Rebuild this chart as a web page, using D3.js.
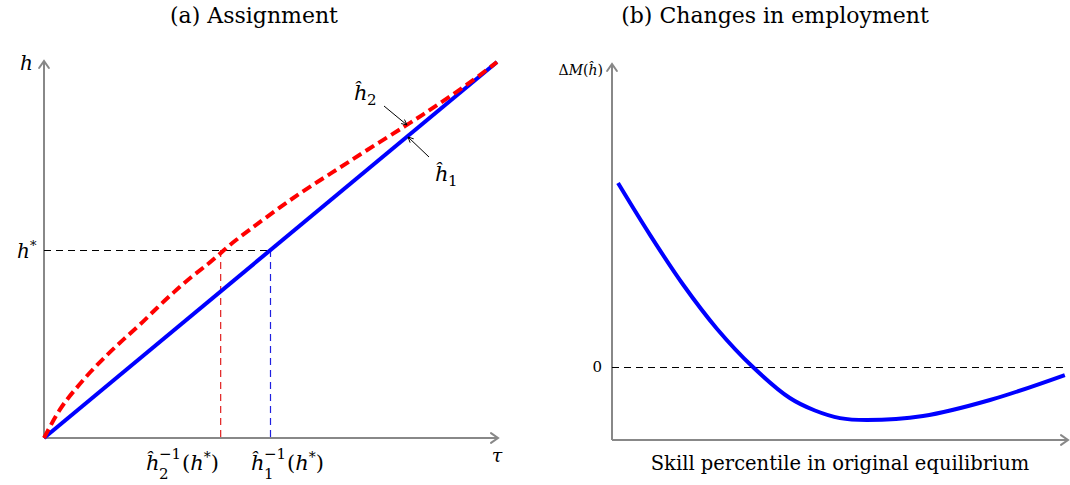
<!DOCTYPE html>
<html><head><meta charset="utf-8">
<script src="https://cdn.jsdelivr.net/npm/d3@7"></script>
<style>body{margin:0;background:#fff}svg{display:block}text{font-family:"DejaVu Serif","Liberation Serif",serif;fill:#000}</style>
</head><body>
<svg id="c" width="1070" height="485"></svg>
<script>
// ---- data: panel (a) ----
const tauA = [0, 1];
const h1A = [0, 1];
const tauRed = [0,0.035,0.068,0.102,0.139,0.174,0.212,0.249,0.285,0.322,0.36,0.393,0.417,0.492,0.565,0.638,0.713,0.801,0.859,0.934,1];
const h2A   = [0,0.080,0.128,0.176,0.221,0.261,0.301,0.346,0.386,0.426,0.460,0.495,0.521,0.588,0.652,0.707,0.766,0.832,0.878,0.939,1];
const hStar = 0.5;
const tauH2inv = 0.39, tauH1inv = 0.5;
// ---- data: panel (b) ----
const pct = [1.32,8.33,15.57,23.0,30.9,39.0,44.5,50.0,55.9,68.2,82.9,99.3];
const dM  = [2.52,1.81,1.13,0.525,0,-0.425,-0.596,-0.70,-0.726,-0.671,-0.452,-0.11];

const svg = d3.select("#c");
const gray = "#888";

function arrowHead(g, x, y, dir){
  const s = 7;
  let p;
  if(dir==="up") p = `M${x-s*0.7},${y+s} L${x},${y} L${x+s*0.7},${y+s}`;
  else p = `M${x-s},${y-s*0.7} L${x},${y} L${x-s},${y+s*0.7}`;
  g.append("path").attr("d",p).attr("fill","none").attr("stroke",gray).attr("stroke-width",2).attr("stroke-linecap","round");
}

// ---------- Panel (a) ----------
const xa = d3.scaleLinear().domain([0,1]).range([44,497]);
const ya = d3.scaleLinear().domain([0,1]).range([438,62]);
const ga = svg.append("g");
ga.append("text").attr("x",254).attr("y",23).attr("text-anchor","middle").attr("font-size",22).text("(a) Assignment");
ga.append("line").attr("x1",44).attr("y1",438).attr("x2",44).attr("y2",61).attr("stroke",gray).attr("stroke-width",2);
arrowHead(ga,44,61,"up");
ga.append("line").attr("x1",44).attr("y1",438).attr("x2",498).attr("y2",438).attr("stroke",gray).attr("stroke-width",2);
arrowHead(ga,498,438,"right");
ga.append("line").attr("x1",44).attr("x2",xa(tauH1inv)).attr("y1",ya(hStar)+0.5).attr("y2",ya(hStar)+0.5)
  .attr("stroke","#000").attr("stroke-width",1).attr("stroke-dasharray","7,5");
ga.append("line").attr("x1",xa(tauH2inv)).attr("x2",xa(tauH2inv)).attr("y1",ya(hStar)).attr("y2",ya(0))
  .attr("stroke","#e02020").attr("stroke-width",1.2).attr("stroke-dasharray","7,5");
ga.append("line").attr("x1",xa(tauH1inv)).attr("x2",xa(tauH1inv)).attr("y1",ya(hStar)).attr("y2",ya(0))
  .attr("stroke","#2020e0").attr("stroke-width",1.2).attr("stroke-dasharray","7,5");
const la = d3.line().x(d=>xa(d[0])).y(d=>ya(d[1]));
ga.append("path").attr("d",la(d3.zip(tauA,h1A))).attr("fill","none").attr("stroke","#0000ff").attr("stroke-width",4);
ga.append("path").attr("d",la.curve(d3.curveBasis)(d3.zip(tauRed,h2A))).attr("fill","none").attr("stroke","#ff0000").attr("stroke-width",4).attr("stroke-dasharray","10,5");
// labels
ga.append("text").attr("x",33).attr("y",70).attr("text-anchor","end").attr("font-size",20).attr("font-style","italic").text("h");
ga.append("text").attr("x",30).attr("y",258).attr("text-anchor","end").attr("font-size",20).attr("font-style","italic").text("h");
ga.append("text").attr("x",30).attr("y",250).attr("font-size",13).text("*");
ga.append("text").attr("x",497).attr("y",462).attr("text-anchor","middle").attr("font-size",19).attr("font-style","italic").text("τ");
function invLabel(x, sub){
  ga.append("text").attr("x",x).attr("y",470).attr("font-size",21).attr("font-style","italic").text("ĥ");
  ga.append("text").attr("x",x+13).attr("y",479).attr("font-size",15).text(sub);
  ga.append("text").attr("x",x+13).attr("y",459).attr("font-size",15).text("−1");
  const t = ga.append("text").attr("x",x+36).attr("y",470).attr("font-size",21);
  t.append("tspan").text("(");
  t.append("tspan").attr("font-style","italic").text("h");
  t.append("tspan").attr("font-size",14).attr("dy",-8).text("*");
  t.append("tspan").attr("dy",8).text(")");
}
invLabel(146,"2");
invLabel(251,"1");
function hatLabel(x,y,sub){
  ga.append("text").attr("x",x).attr("y",y).attr("font-size",21).attr("font-style","italic").text("ĥ");
  ga.append("text").attr("x",x+13).attr("y",y+5).attr("font-size",15).text(sub);
}
hatLabel(354,100,"2");
hatLabel(435,181,"1");
function annot(x1,y1,x2,y2){
  ga.append("line").attr("x1",x1).attr("y1",y1).attr("x2",x2).attr("y2",y2).attr("stroke","#000").attr("stroke-width",1);
  const a = Math.atan2(y2-y1,x2-x1), s=6;
  const p = `M${x2-s*Math.cos(a-0.45)},${y2-s*Math.sin(a-0.45)} L${x2},${y2} L${x2-s*Math.cos(a+0.45)},${y2-s*Math.sin(a+0.45)}`;
  ga.append("path").attr("d",p).attr("fill","none").attr("stroke","#000").attr("stroke-width",1);
}
annot(384,106,407,125);
annot(429,157,408,137);

// ---------- Panel (b) ----------
const xb = d3.scaleLinear().domain([0,100]).range([612,1068]);
const yb = d3.scaleLinear().domain([-1,0]).range([440,367]);
const gb = svg.append("g");
gb.append("text").attr("x",775).attr("y",23).attr("text-anchor","middle").attr("font-size",22).text("(b) Changes in employment");
gb.append("line").attr("x1",612).attr("y1",440).attr("x2",612).attr("y2",64).attr("stroke",gray).attr("stroke-width",2);
arrowHead(gb,612,64,"up");
gb.append("line").attr("x1",612).attr("y1",440).attr("x2",1068).attr("y2",440).attr("stroke",gray).attr("stroke-width",2);
arrowHead(gb,1068,440,"right");
gb.append("line").attr("x1",612).attr("x2",1068).attr("y1",yb(0)+0.5).attr("y2",yb(0)+0.5).attr("stroke","#000").attr("stroke-width",1).attr("stroke-dasharray","7,5");
gb.append("text").attr("x",602).attr("y",yb(0)+5).attr("text-anchor","end").attr("font-size",15).text("0");
const lb = d3.line().x(d=>xb(d[0])).y(d=>yb(d[1])).curve(d3.curveCatmullRom);
gb.append("path").attr("d",lb(d3.zip(pct,dM))).attr("fill","none").attr("stroke","#0000ff").attr("stroke-width",4);
const ml = gb.append("text").attr("x",603).attr("y",75).attr("text-anchor","end").attr("font-size",14);
ml.append("tspan").text("Δ");
ml.append("tspan").attr("font-style","italic").text("M");
ml.append("tspan").text("(");
ml.append("tspan").attr("font-style","italic").text("ĥ");
ml.append("tspan").text(")");
gb.append("text").attr("x",840).attr("y",470).attr("text-anchor","middle").attr("font-size",19.5).text("Skill percentile in original equilibrium");
</script>
</body></html>
